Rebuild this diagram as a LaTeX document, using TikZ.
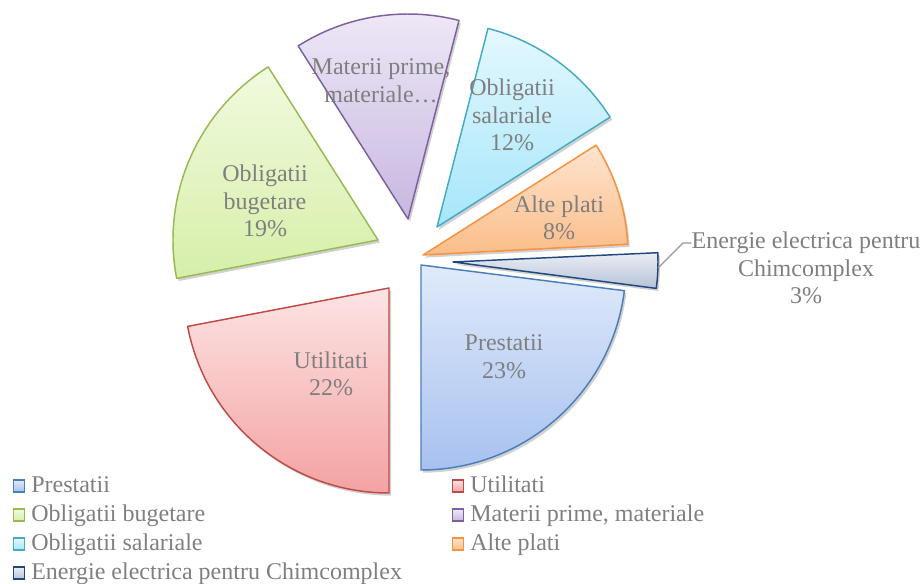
\documentclass[tikz,border=0pt]{standalone}
\usepackage{fontspec}
\setmainfont{Liberation Serif}
\usetikzlibrary{shadows}
\definecolor{txt}{HTML}{7F7F7F}
\definecolor{eA}{HTML}{4A7EBB}\definecolor{tA}{HTML}{E0EAFB}\definecolor{bA}{HTML}{A7C1EF}
\definecolor{eB}{HTML}{BE4B48}\definecolor{tB}{HTML}{FDE4E4}\definecolor{bB}{HTML}{F4A2A2}
\definecolor{eC}{HTML}{98B954}\definecolor{tC}{HTML}{F1FADF}\definecolor{bC}{HTML}{D6EFA8}
\definecolor{eD}{HTML}{7D60A0}\definecolor{tD}{HTML}{EFE9F7}\definecolor{bD}{HTML}{C7B7E0}
\definecolor{eE}{HTML}{46AAC5}\definecolor{tE}{HTML}{E4F8FE}\definecolor{bE}{HTML}{A5E6FA}
\definecolor{eF}{HTML}{F69240}\definecolor{tF}{HTML}{FEE4CF}\definecolor{bF}{HTML}{FBBD88}
\definecolor{eG}{HTML}{1F497D}\definecolor{tG}{HTML}{EAEEF4}\definecolor{bG}{HTML}{B6C2D8}
\tikzset{
  slice/.style n args={3}{draw=#1, line width=1.1pt, line join=round, top color=#2, bottom color=#3,
    drop shadow={shadow xshift=1.5pt, shadow yshift=-2pt, opacity=0.18, fill=black}},
  lab/.style={text=txt, align=center, inner sep=0pt, font=\fontsize{18}{20.7}\selectfont},
  legtxt/.style={text=txt, anchor=base west, inner sep=0pt, font=\fontsize{18}{20.7}\selectfont},
  legsq/.style n args={3}{draw=#1, line width=1pt, top color=#2, bottom color=#3, minimum width=8.5pt, minimum height=9pt, inner sep=0pt},
}
\begin{document}
\begin{tikzpicture}[x=0.75pt, y=0.75pt]
\useasboundingbox (0,0) rectangle (924,-584);
\def\R{205}
% slices
\draw[slice={eA}{tA}{bA}] (421,-265) -- ++(-90:\R) arc[start angle=-90, end angle=-7.2, radius=\R] -- cycle;
\draw[slice={eG}{tG}{bG}] (453,-262) -- ++(-7.4:\R) arc[start angle=-7.4, end angle=2.6, radius=\R] -- cycle;
\draw[slice={eF}{tF}{bF}] (423,-255) -- ++(3.0:\R) arc[start angle=3.0, end angle=32.4, radius=\R] -- cycle;
\draw[slice={eE}{tE}{bE}] (437,-227) -- ++(32.4:\R) arc[start angle=32.4, end angle=75.6, radius=\R] -- cycle;
\draw[slice={eD}{tD}{bD}] (408,-219) -- ++(75.6:\R) arc[start angle=75.6, end angle=122.4, radius=\R] -- cycle;
\draw[slice={eC}{tC}{bC}] (378,-240) -- ++(122.4:\R) arc[start angle=122.4, end angle=190.8, radius=\R] -- cycle;
\draw[slice={eB}{tB}{bB}] (389,-288) -- ++(190.8:\R) arc[start angle=190.8, end angle=270, radius=\R] -- cycle;
% labels
\node[lab] (lA) at (504,-357) {Prestatii\\23\%};
\node[lab] (lB) at (331,-374) {Utilitati\\22\%};
\node[lab] (lC) at (265,-201) {Obligatii\\bugetare\\19\%};
\node[lab] (lD) at (381,-81) {Materii prime,\\materiale…};
\node[lab] (lE) at (512,-115) {Obligatii\\salariale\\12\%};
\node[lab] (lF) at (559,-218) {Alte plati\\8\%};
\node[lab] (lG) at (806,-268) {Energie electrica pentru\\Chimcomplex\\3\%};
% leader
\coordinate (g1) at (658,-268);
\coordinate (g2) at (683,-243);
\draw[txt!80, line width=0.9pt] (g1) -- (g2) -- (g2 -| lG.west);
% legend
\node[legsq={eA}{tA}{bA}] (qA) at (19,-486) {};
\node[legtxt] (tA) at (31,-492) {Prestatii};
\node[legsq={eB}{tB}{bB}] (qB) at (458,-486) {};
\node[legtxt] (tB) at (470,-492) {Utilitati};
\node[legsq={eC}{tC}{bC}] (qC) at (19,-515) {};
\node[legtxt] (tC) at (31,-521) {Obligatii bugetare};
\node[legsq={eD}{tD}{bD}] (qD) at (458,-515) {};
\node[legtxt] (tD) at (470,-521) {Materii prime, materiale};
\node[legsq={eE}{tE}{bE}] (qE) at (19,-544) {};
\node[legtxt] (tE) at (31,-550) {Obligatii salariale};
\node[legsq={eF}{tF}{bF}] (qF) at (458,-544) {};
\node[legtxt] (tF) at (470,-550) {Alte plati};
\node[legsq={eG}{tG}{bG}] (qG) at (19,-573) {};
\node[legtxt] (tG) at (31,-579) {Energie electrica pentru Chimcomplex};
\end{tikzpicture}
\end{document}
